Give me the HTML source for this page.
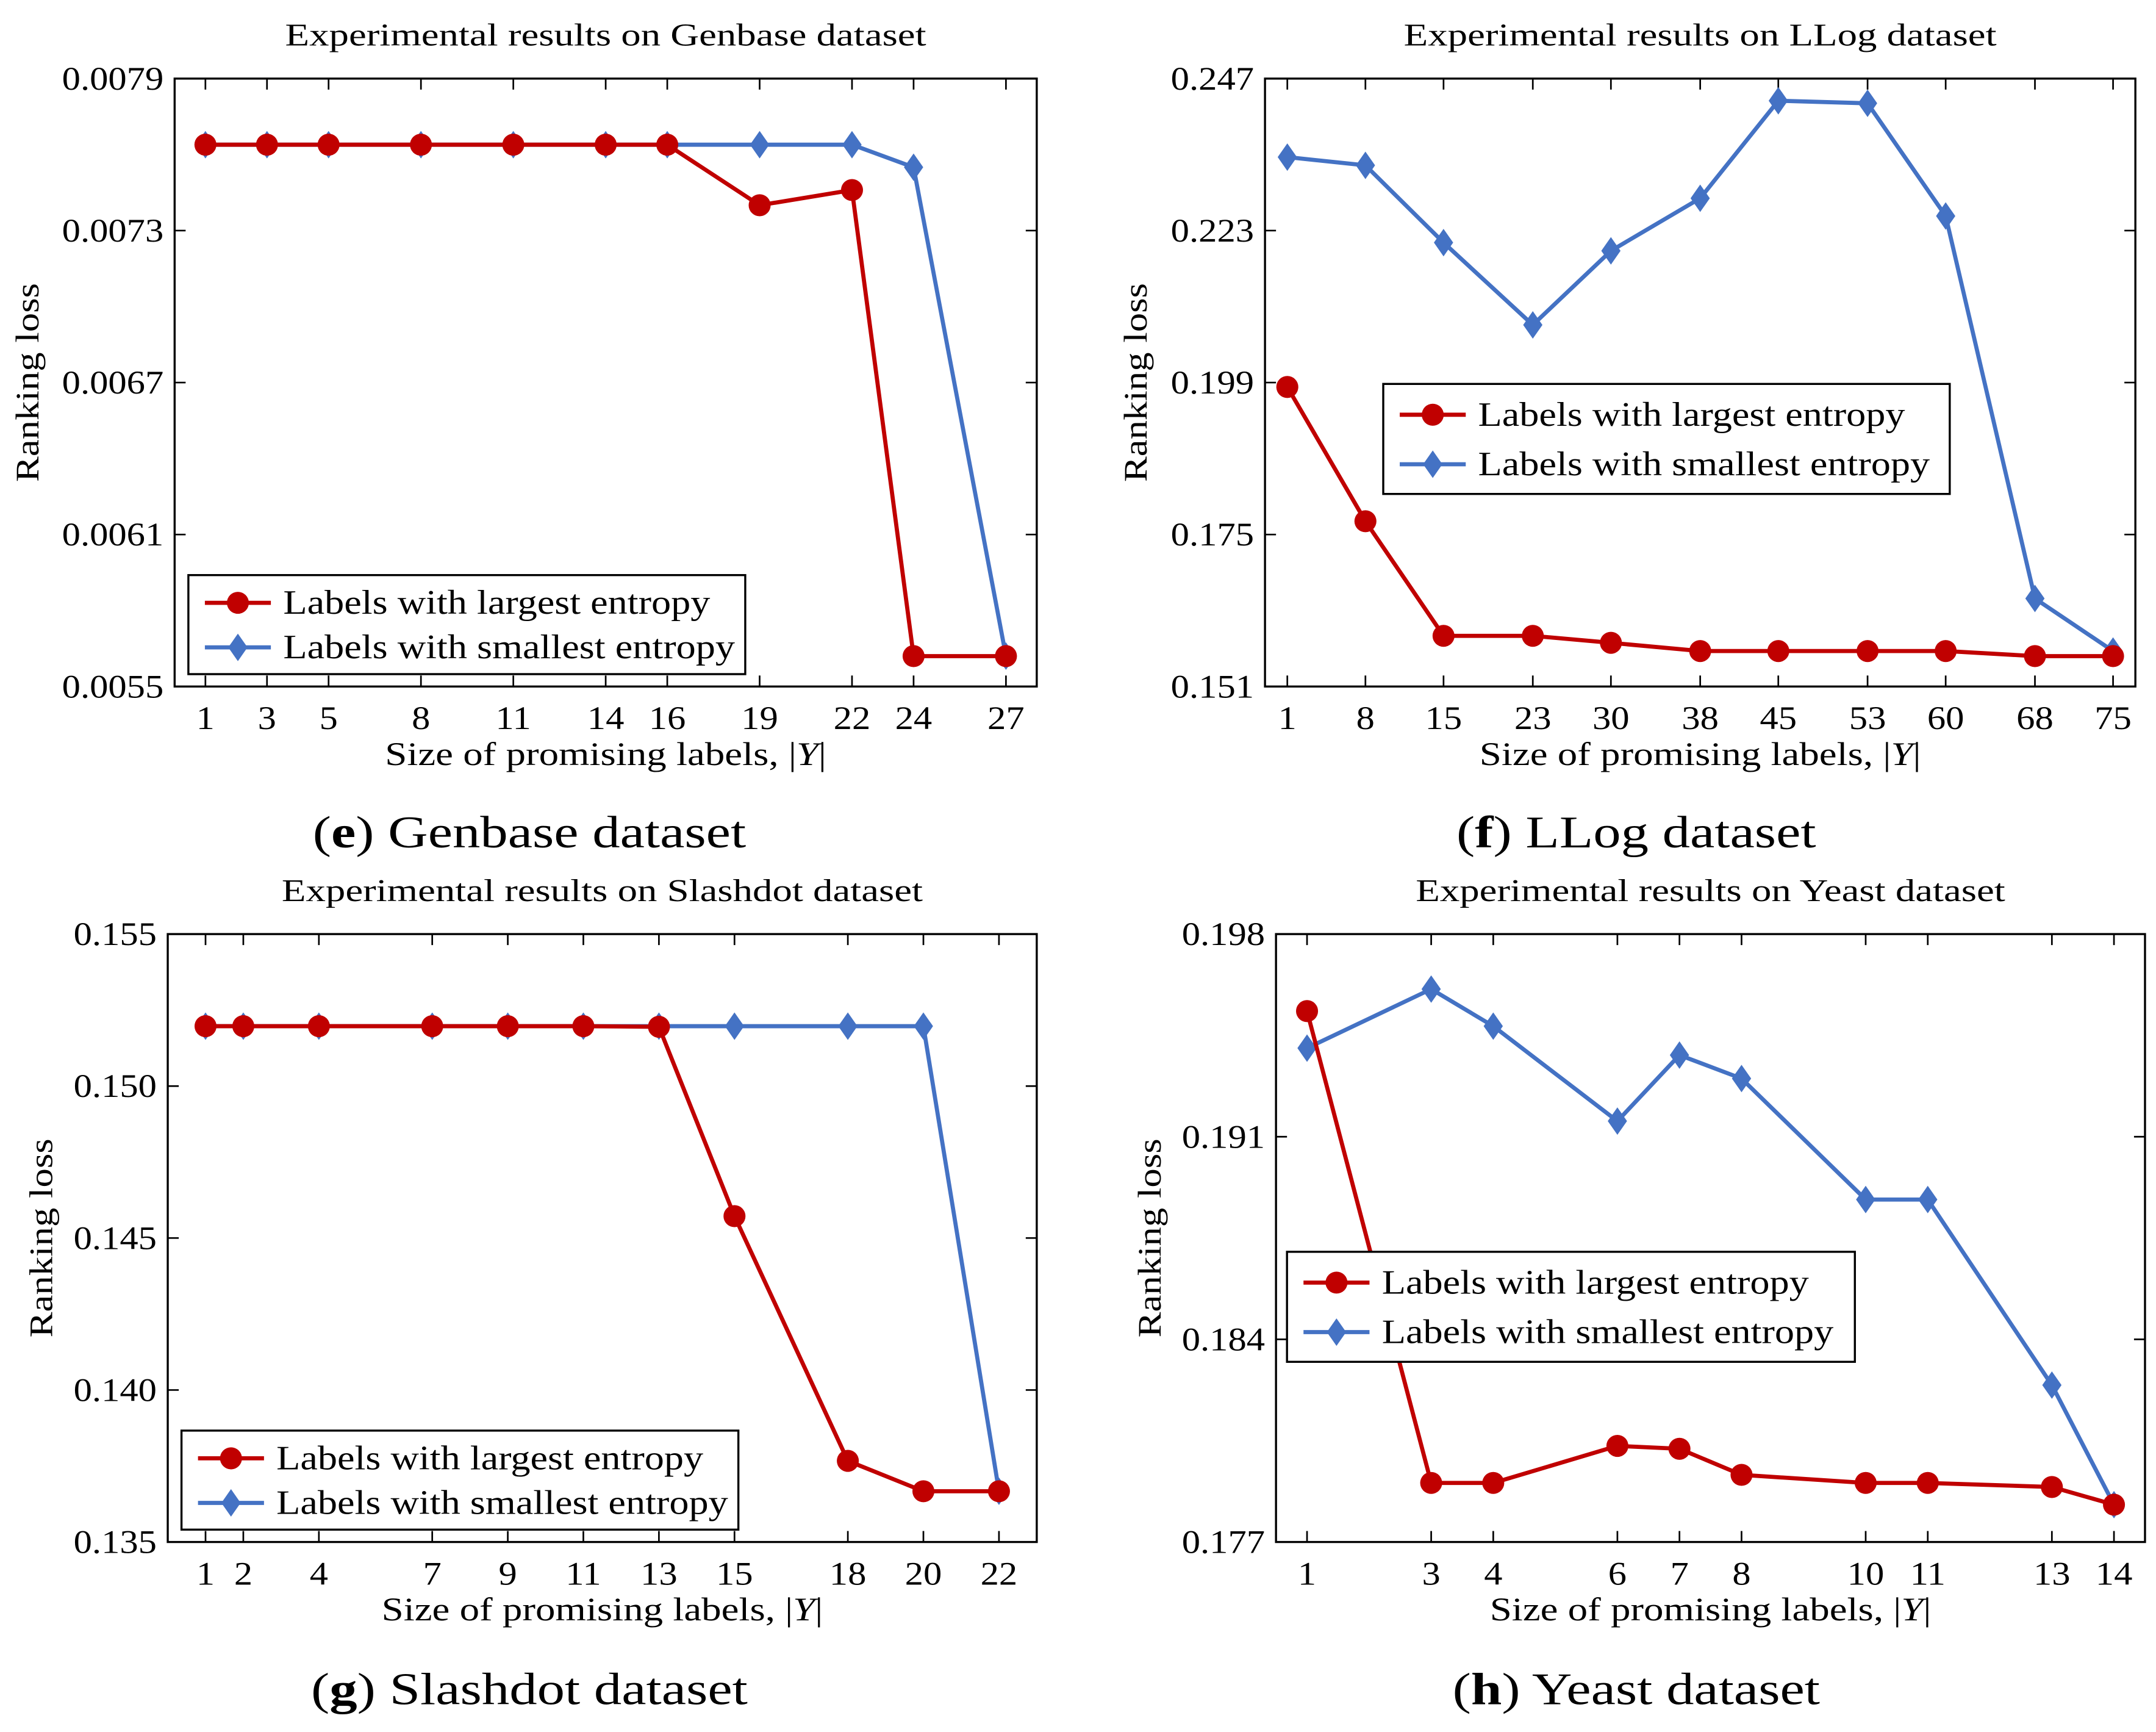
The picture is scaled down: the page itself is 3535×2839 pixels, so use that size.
<!DOCTYPE html>
<html><head><meta charset="utf-8"><style>
html,body{margin:0;padding:0;background:#fff}
svg{display:block}
text{font-family:"Liberation Serif",serif;fill:#000}
</style></head><body>
<svg id="fig" width="3535" height="2839" viewBox="0 0 1568 1259" xmlns="http://www.w3.org/2000/svg"></svg>
<script>
// Panel e: Genbase
const eX = [1,3,5,8,11,14,16,19,22,24,27];
const eRed = [0.007639,0.007639,0.007639,0.007639,0.007639,0.007639,0.007639,0.00740,0.00746,0.00562,0.00562];
const eBlue = [0.007639,0.007639,0.007639,0.007639,0.007639,0.007639,0.007639,0.007639,0.007639,0.00755,0.00562];
const eYTicks = [0.0055,0.0061,0.0067,0.0073,0.0079];
const eYLabels = ["0.0055","0.0061","0.0067","0.0073","0.0079"];
// Panel f: LLog
const fX = [1,8,15,23,30,38,45,53,60,68,75];
const fRed = [0.1983,0.1771,0.1590,0.1590,0.1579,0.1566,0.1566,0.1566,0.1566,0.1558,0.1558];
const fBlue = [0.2346,0.2333,0.2211,0.2081,0.2198,0.2281,0.2435,0.2431,0.2253,0.1649,0.1566];
const fYTicks = [0.151,0.175,0.199,0.223,0.247];
const fYLabels = ["0.151","0.175","0.199","0.223","0.247"];
// Panel g: Slashdot
const gX = [1,2,4,7,9,11,13,15,18,20,22];
const gRed = [0.15197,0.15197,0.15197,0.15197,0.15197,0.15197,0.15195,0.14572,0.13767,0.13667,0.13667];
const gBlue = [0.15197,0.15197,0.15197,0.15197,0.15197,0.15197,0.15197,0.15197,0.15197,0.15197,0.13667];
const gYTicks = [0.135,0.140,0.145,0.150,0.155];
const gYLabels = ["0.135","0.140","0.145","0.150","0.155"];
// Panel h: Yeast
const hX = [1,3,4,6,7,8,10,11,13,14];
const hRed = [0.19534,0.17904,0.17904,0.18032,0.18022,0.17932,0.17904,0.17904,0.1789,0.17829];
const hBlue = [0.19406,0.1961,0.19482,0.19154,0.19382,0.19301,0.18883,0.18883,0.18242,0.17829];
const hYTicks = [0.177,0.184,0.191,0.198];
const hYLabels = ["0.177","0.184","0.191","0.198"];

const NS="http://www.w3.org/2000/svg";
const svg=document.getElementById('fig');
const RED="#c00000", BLUE="#4472c4";
function mk(tag,attrs,parent){const e=document.createElementNS(NS,tag);for(const k in attrs)e.setAttribute(k,attrs[k]);(parent||svg).appendChild(e);return e;}
function widen(el,f){const L=el.getComputedTextLength();if(L>0){el.setAttribute('textLength',(L*f).toFixed(1));el.setAttribute('lengthAdjust','spacingAndGlyphs');}}

function panel(cfg){
  const g=mk('g',{});
  
  
  const {x0,x1,y0,y1,xmin,xmax,ymin,ymax}=cfg;
  const sx=v=>x0+(v-xmin)/(xmax-xmin)*(x1-x0);
  const sy=v=>y1-(v-ymin)/(ymax-ymin)*(y1-y0);
  const t=mk('text',{x:(x0+x1)/2,y:y0-24,'text-anchor':'middle','font-size':23},g);t.textContent=cfg.title;
  
  
  widen(t,1.25);
  const box=mk('rect',{x:x0,y:y0,width:x1-x0,height:y1-y0,fill:'none',stroke:'#000','stroke-width':1.5},g);
  
  
  cfg.xs.forEach(v=>{
    const X=sx(v);
    mk('line',{x1:X,x2:X,y1:y1,y2:y1-8,stroke:'#000','stroke-width':1.2},g);
    mk('line',{x1:X,x2:X,y1:y0,y2:y0+8,stroke:'#000','stroke-width':1.2},g);
    const tl=mk('text',{x:X,y:y1+31,'text-anchor':'middle','font-size':24},g);tl.textContent=v;
    
    
    widen(tl,1.12);
  });
  cfg.yt.forEach((v,i)=>{
    const Y=sy(v);
    mk('line',{x1:x0,x2:x0+8,y1:Y,y2:Y,stroke:'#000','stroke-width':1.2},g);
    mk('line',{x1:x1,x2:x1-8,y1:Y,y2:Y,stroke:'#000','stroke-width':1.2},g);
    const tl=mk('text',{x:x0-8,y:Y+8,'text-anchor':'end','font-size':24},g);tl.textContent=cfg.yl[i];
    
    
    widen(tl,1.12);
  });
  const xl=mk('text',{x:(x0+x1)/2,y:y1+57,'text-anchor':'middle','font-size':24},g);
  xl.innerHTML='Size of promising labels, |<tspan font-style="italic">Y</tspan>|';
  
  
  widen(xl,1.2);
  const yx=cfg.ylabX, yy=(y0+y1)/2;
  const yl=mk('text',{x:yx,y:yy,'text-anchor':'middle','font-size':24,transform:`rotate(-90 ${yx} ${yy})`},g);yl.textContent='Ranking loss';
  
  
  widen(yl,1.16);
  function series(vals,color,marker,nm){
    const sg=mk('g',{},g);
    
    
    const pts=vals.map((v,i)=>sx(cfg.xs[i])+','+sy(v)).join(' ');
    mk('polyline',{points:pts,fill:'none',stroke:color,'stroke-width':3,'stroke-linejoin':'round'},sg);
    vals.forEach((v,i)=>{
      const X=sx(cfg.xs[i]),Y=sy(v);
      let m;
      if(marker==='c') m=mk('circle',{cx:X,cy:Y,r:8,fill:color},sg);
      else m=mk('polygon',{points:`${X},${Y-10} ${X+7},${Y} ${X},${Y+10} ${X-7},${Y}`,fill:color},sg);
      
      
    });
  }
  series(cfg.blue,BLUE,'d','series-smallest-entropy');
  series(cfg.red,RED,'c','series-largest-entropy');
  const L=cfg.leg;
  const lg=mk('g',{},g);
  
  
  mk('rect',{x:L[0],y:L[1],width:L[2],height:L[3],fill:'#fff',stroke:'#000','stroke-width':1.5},lg);
  const r1=L[1]+L[3]*0.28, r2=L[1]+L[3]*0.73;
  mk('line',{x1:L[0]+12,x2:L[0]+60,y1:r1,y2:r1,stroke:RED,'stroke-width':3},lg);
  mk('circle',{cx:L[0]+36,cy:r1,r:8,fill:RED},lg);
  mk('line',{x1:L[0]+12,x2:L[0]+60,y1:r2,y2:r2,stroke:BLUE,'stroke-width':3},lg);
  mk('polygon',{points:`${L[0]+36},${r2-10} ${L[0]+43},${r2} ${L[0]+36},${r2+10} ${L[0]+29},${r2}`,fill:BLUE},lg);
  const a=mk('text',{x:L[0]+69,y:r1+8,'font-size':25},lg);a.textContent='Labels with largest entropy';
  
  
  widen(a,1.14);
  const b=mk('text',{x:L[0]+69,y:r2+8,'font-size':25},lg);b.textContent='Labels with smallest entropy';
  
  
  widen(b,1.14);
  const c=mk('text',{x:cfg.capX,y:cfg.capY,'text-anchor':'middle','font-size':33},g);
  c.innerHTML='(<tspan font-weight="bold">'+cfg.letter+'</tspan>) '+cfg.cap;
  
  
  widen(c,1.22);
}
panel({name:'panel-genbase',x0:127,x1:754,y0:57,y1:499,xmin:0,xmax:28,ymin:0.0055,ymax:0.0079,xs:eX,red:eRed,blue:eBlue,yt:eYTicks,yl:eYLabels,title:'Experimental results on Genbase dataset',ylabX:28,leg:[137,418,405,72],capX:385,capY:616,letter:'e',cap:'Genbase dataset'});
panel({name:'panel-llog',x0:920,x1:1553,y0:57,y1:499,xmin:-1,xmax:77,ymin:0.151,ymax:0.247,xs:fX,red:fRed,blue:fBlue,yt:fYTicks,yl:fYLabels,title:'Experimental results on LLog dataset',ylabX:834,leg:[1006,279,412,80],capX:1190,capY:616,letter:'f',cap:'LLog dataset'});
panel({name:'panel-slashdot',x0:122,x1:754,y0:679,y1:1121,xmin:0,xmax:23,ymin:0.135,ymax:0.155,xs:gX,red:gRed,blue:gBlue,yt:gYTicks,yl:gYLabels,title:'Experimental results on Slashdot dataset',ylabX:38,leg:[132,1040,405,72],capX:385,capY:1239,letter:'g',cap:'Slashdot dataset'});
panel({name:'panel-yeast',x0:928,x1:1560,y0:679,y1:1121,xmin:0.5,xmax:14.5,ymin:0.177,ymax:0.198,xs:hX,red:hRed,blue:hBlue,yt:hYTicks,yl:hYLabels,title:'Experimental results on Yeast dataset',ylabX:844,leg:[936,910,413,80],capX:1190,capY:1239,letter:'h',cap:'Yeast dataset'});
</script>
</body></html>
